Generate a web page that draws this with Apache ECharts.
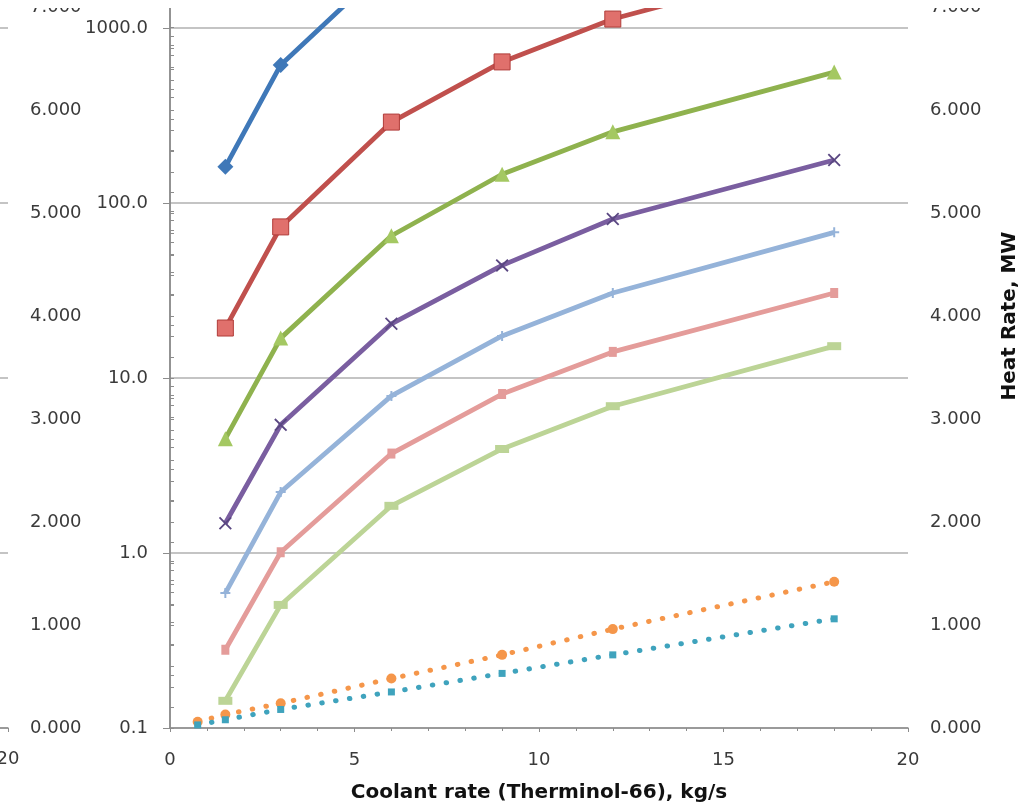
<!DOCTYPE html>
<html>
<head>
<meta charset="utf-8">
<script src="https://cdn.jsdelivr.net/npm/echarts@6/dist/echarts.min.js"></script>
<style>
html, body { margin: 0; padding: 0; background: #fff; }
#chart { position: absolute; left: 0; top: 8px; width: 1021px; height: 798px; }
</style>
</head>
<body>
<div id="chart"></div>
<script>
// ================= data =================
const coolant = [1.5, 3, 6, 9, 12, 18]
const coolantDotted = [0.75, 1.5, 3, 6, 9, 12, 18]

// log axis series
const blueVals = [161, 615, 2400]
const redVals = [19.3, 73, 290, 640, 1125, 2450]
const greenVals = [4.5, 16.9, 65, 146, 255, 560]
const purpleVals = [1.48, 5.4, 20.4, 44, 81, 176]
const lightBlueVals = [0.59, 2.23, 7.9, 17.4, 30.6, 68]
const pinkVals = [0.28, 1.01, 3.7, 8.1, 14.1, 30.6]
const lightGreenVals = [0.143, 0.505, 1.86, 3.93, 6.9, 15.2]

// heat rate, MW (right axis)
const orangeVals = [0.06, 0.13, 0.24, 0.48, 0.71, 0.96, 1.42]
const tealVals = [0.03, 0.08, 0.18, 0.35, 0.53, 0.71, 1.06]

// log axis range (decades)
const logTicks = [0.1, 1, 10, 100, 1000, 10000]

// minor ticks of the log axis (2..9 in every decade)
const logMinor = []
logTicks.slice(0, -1).forEach(d => {
  for (let k = 2; k <= 9; k++) logMinor.push(+(d * k).toPrecision(3))
})

const pairs = (xs, ys) => ys.map((y, i) => [xs[i], y])

const FONT = 'DejaVu Sans'
const axisGray = '#8c8c8c'
const gridGray = '#c4c4c4'
const labelStyle = { color: '#3a3a3a', fontSize: 18, fontFamily: FONT }

const chart = echarts.init(document.getElementById('chart'))

// ================= helpers =================
const logLine = (name, vals, color, symbol, size, extra) => Object.assign({
  name,
  type: 'line',
  xAxisIndex: 0,
  yAxisIndex: 0,
  data: pairs(coolant, vals),
  symbol,
  symbolSize: size,
  lineStyle: { color, width: 4.8 },
  itemStyle: { color },
  z: 3
}, extra || {})

const dotLine = (name, vals, color, symbol, size) => ({
  name,
  type: 'line',
  xAxisIndex: 1,
  yAxisIndex: 2,
  data: pairs(coolantDotted, vals),
  symbol,
  symbolSize: size,
  lineStyle: { color, width: 5, type: [0.5, 13.5], cap: 'round' },
  itemStyle: { color },
  z: 4
})

const xPath = 'path://M0,1L1,0L5,4L9,0L10,1L6,5L10,9L9,10L5,6L1,10L0,9L4,5Z'
const plusPath = 'path://M4,0H6V4H10V6H6V10H4V6H0V4H4Z'

const logMin = logTicks[0]
const logMax = logTicks[logTicks.length - 1]

// ================= option =================
const option = {
  animation: false,
  backgroundColor: '#fff',
  grid: [
    { left: 170, right: 113, top: -155, bottom: 78, outerBoundsMode: 'none' },
    { left: 170, right: 113, top: -104, bottom: 78, outerBoundsMode: 'none' },
    { left: -300, right: 1013, top: -104, bottom: 78, outerBoundsMode: 'none' },
    { left: -300, right: 1013, top: -155, bottom: 78, outerBoundsMode: 'none' }
  ],
  xAxis: [
    {
      gridIndex: 0, type: 'value', min: 0, max: 20, interval: 5,
      name: 'Coolant rate (Therminol-66), kg/s',
      nameLocation: 'middle', nameGap: 55,
      nameTextStyle: { fontFamily: FONT, fontSize: 20, fontWeight: 'bold', color: '#111' },
      axisLine: { onZero: false, lineStyle: { color: axisGray, width: 1.5 } },
      axisTick: { length: 4, lineStyle: { color: axisGray } },
      minorTick: { show: true, splitNumber: 5, length: 3, lineStyle: { color: axisGray } },
      axisLabel: Object.assign({ margin: 23 }, labelStyle),
      splitLine: { show: false }
    },
    { gridIndex: 1, type: 'value', min: 0, max: 20, show: false },
    {
      gridIndex: 2, type: 'value', min: 0, max: 20, interval: 5,
      axisLine: { onZero: false, lineStyle: { color: axisGray, width: 1.5 } },
      axisTick: { length: 4, lineStyle: { color: axisGray } },
      axisLabel: Object.assign({ margin: 22 }, labelStyle),
      splitLine: { show: false }
    },
    { gridIndex: 3, type: 'value', min: 0, max: 20, show: false }
  ],
  yAxis: [
    {
      gridIndex: 0, type: 'log', logBase: 10, min: logMin, max: logMax,
      position: 'left',
      axisLine: { show: true, lineStyle: { color: axisGray, width: 1.5 } },
      axisTick: { show: true, length: 7, lineStyle: { color: axisGray } },
      axisLabel: Object.assign({ margin: 22, formatter: v => v.toFixed(1) }, labelStyle),
      splitLine: { show: true, lineStyle: { color: gridGray, width: 2 } }
    },
    {
      gridIndex: 0, type: 'log', logBase: 10, min: logMin, max: logMax,
      position: 'left',
      axisLine: { show: false },
      axisTick: { show: true, inside: true, length: 4, customValues: logMinor, lineStyle: { color: axisGray } },
      axisLabel: { show: false },
      splitLine: { show: false }
    },
    {
      gridIndex: 1, type: 'value', min: 0, max: 8, interval: 1, position: 'right',
      name: 'Heat Rate, MW', nameLocation: 'middle', nameGap: 92, nameRotate: 90,
      nameTextStyle: { fontFamily: FONT, fontSize: 20, fontWeight: 'bold', color: '#111' },
      axisLine: { show: true, lineStyle: { color: axisGray, width: 1.5 } },
      axisTick: { show: true, length: 4, lineStyle: { color: axisGray } },
      minorTick: { show: true, splitNumber: 5, length: 4, lineStyle: { color: axisGray } },
      axisLabel: Object.assign({ margin: 22, formatter: v => v.toFixed(3) }, labelStyle),
      splitLine: { show: false }
    },
    {
      gridIndex: 2, type: 'value', min: 0, max: 8, interval: 1, position: 'right',
      axisLine: { show: true, lineStyle: { color: axisGray, width: 1.5 } },
      axisTick: { show: true, length: 4, lineStyle: { color: axisGray } },
      minorTick: { show: true, splitNumber: 5, length: 4, lineStyle: { color: axisGray } },
      axisLabel: Object.assign({ margin: 22, formatter: v => v.toFixed(3) }, labelStyle),
      splitLine: { show: false }
    },
    {
      gridIndex: 3, type: 'log', logBase: 10, min: logMin, max: logMax,
      axisLine: { show: false }, axisTick: { show: false }, axisLabel: { show: false },
      splitLine: { show: true, lineStyle: { color: gridGray, width: 2 } }
    }
  ],
  series: [
    logLine('blue', blueVals, '#3f78b8', 'diamond', 16),
    logLine('red', redVals, '#c0504d', 'rect', 16, { itemStyle: { color: '#e0706c', borderColor: '#b03c39', borderWidth: 1 } }),
    logLine('green', greenVals, '#8fb24e', 'triangle', 15, { itemStyle: { color: '#a4c862' } }),
    logLine('purple', purpleVals, '#7a5ea0', xPath, 13, { itemStyle: { color: '#5a4782' } }),
    logLine('lightblue', lightBlueVals, '#95b3d9', plusPath, 10),
    logLine('pink', pinkVals, '#e49c9a', 'rect', [8, 10]),
    logLine('lightgreen', lightGreenVals, '#bcd496', 'rect', [14, 8]),
    dotLine('orange', orangeVals, '#f5964a', 'circle', 10),
    dotLine('teal', tealVals, '#3fa3bd', 'rect', 7)
  ]
}

chart.setOption(option, true)
</script>
</body>
</html>
